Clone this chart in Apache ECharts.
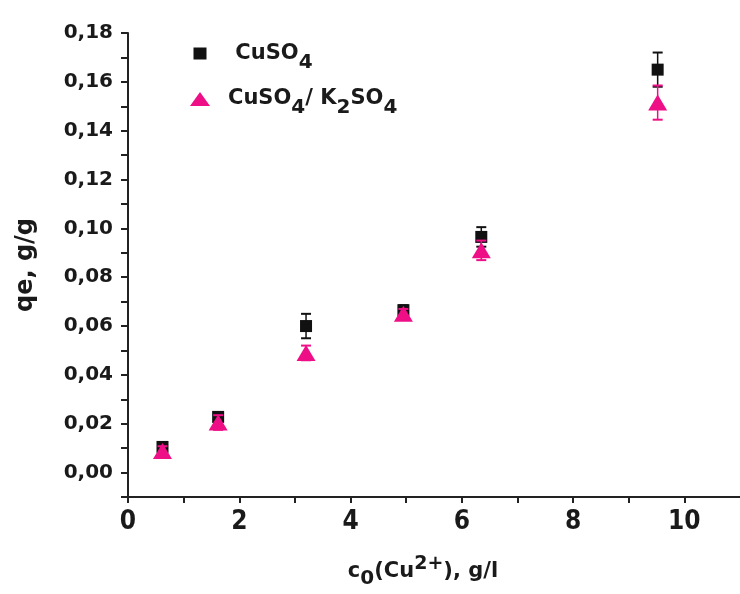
<!DOCTYPE html>
<html>
<head>
<meta charset="utf-8">
<script src="https://cdn.jsdelivr.net/npm/echarts@6/dist/echarts.min.js"></script>
<style>
html,body{margin:0;padding:0;background:#fff;}
#chart{width:740px;height:594px;}
</style>
</head>
<body>
<div id="chart"></div>
<script>
// Data
const xValues = [0.62, 1.62, 3.2, 4.95, 6.35, 9.52];
const cuso4 = [0.0105, 0.0228, 0.0600, 0.0665, 0.0965, 0.1650];
const cuso4Err = [0.002, 0.002, 0.005, 0.002, 0.004, 0.007];
const mixed = [0.0088, 0.0205, 0.0490, 0.0650, 0.0910, 0.1515];
const mixedErr = [0.002, 0.003, 0.003, 0.002, 0.004, 0.007];
const seriesNames = ['CuSO4', 'CuSO4/ K2SO4'];
const xTickLabels = [0, 2, 4, 6, 8, 10];
const yTickLabels = ['0,00','0,02','0,04','0,06','0,08','0,10','0,12','0,14','0,16','0,18'];

const BLACK = '#111111';
const PINK = '#EE0F87';
const TXT = '#1a1a1a';
const WIDE = '"DejaVu Sans", Verdana, sans-serif';
const NARROW = '"Liberation Sans Narrow", "DejaVu Sans Condensed", "Arial Narrow", sans-serif';

function errSeries(name, ys, errs, color, z) {
  return {
    name: name,
    type: 'custom',
    z: z,
    data: xValues.map((x, i) => [x, ys[i], errs[i]]),
    encode: { x: 0, y: 1 },
    renderItem: function (params, api) {
      const x = api.value(0), y = api.value(1), e = api.value(2);
      const top = api.coord([x, y + e]);
      const bot = api.coord([x, y - e]);
      const w = 5;
      return {
        type: 'group',
        children: [
          { type: 'line', shape: { x1: top[0], y1: top[1], x2: bot[0], y2: bot[1] }, style: { stroke: color, lineWidth: 1.5 } },
          { type: 'line', shape: { x1: top[0] - w, y1: top[1], x2: top[0] + w, y2: top[1] }, style: { stroke: color, lineWidth: 2 } },
          { type: 'line', shape: { x1: bot[0] - w, y1: bot[1], x2: bot[0] + w, y2: bot[1] }, style: { stroke: color, lineWidth: 2 } }
        ]
      };
    },
    silent: true
  };
}

const chart = echarts.init(document.getElementById('chart'), null, { renderer: 'canvas' });
const legendRich = {
  m: { fontFamily: WIDE, fontWeight: 'bold', fontSize: 21, color: TXT, verticalAlign: 'middle' },
  s: { fontFamily: WIDE, fontWeight: 'bold', fontSize: 20, color: TXT, verticalAlign: 'bottom', padding: [18, 0, 0, 0] }
};

chart.setOption({
  backgroundColor: '#ffffff',
  animation: false,
  grid: { left: 128, right: 0, top: 33, bottom: 95.5, containLabel: false },
  legend: {
    orient: 'vertical',
    left: 185,
    top: 38,
    itemGap: 16,
    itemWidth: 20,
    itemHeight: 14,
    selectedMode: false,
    data: [
      { name: seriesNames[0], icon: 'path://M0,0M20,14M3.5,1h13v12h-13z' },
      { name: seriesNames[1], icon: 'triangle' }
    ],
    formatter: function (name) {
      if (name === seriesNames[0]) return '{m| CuSO}{s|4}';
      return '{m|CuSO}{s|4}{m|/ K}{s|2}{m|SO}{s|4}';
    },
    textStyle: { rich: legendRich, padding: [0, 0, 0, 13] }
  },
  xAxis: {
    type: 'value',
    min: 0,
    max: 11,
    interval: 1,
    name: '{m|c}{s|0}{m|(Cu}{p|2+}{m|), g/l}',
    nameLocation: 'middle',
    nameGap: 58,
    nameTextStyle: {
      padding: [0, 22, 0, 0],
      rich: {
        m: { fontFamily: WIDE, fontWeight: 'bold', fontSize: 21, color: TXT, verticalAlign: 'middle' },
        s: { fontFamily: WIDE, fontWeight: 'bold', fontSize: 20, color: TXT, verticalAlign: 'bottom', padding: [14, 0, 0, 0] },
        p: { fontFamily: WIDE, fontWeight: 'bold', fontSize: 19, color: TXT, verticalAlign: 'top', padding: [0, 0, 14, 0] }
      }
    },
    axisLine: { onZero: false, lineStyle: { color: '#222', width: 2 } },
    axisTick: { inside: false, length: 6, lineStyle: { color: '#222', width: 2 } },
    splitLine: { show: false },
    axisLabel: {
      margin: 12,
      fontFamily: NARROW, fontWeight: 'bold', fontSize: 26, color: TXT,
      showMaxLabel: false,
      formatter: function (v) {
        const r = Math.round(v);
        return xTickLabels.indexOf(r) >= 0 && Math.abs(v - r) < 1e-6 ? String(r) : '';
      }
    }
  },
  yAxis: {
    type: 'value',
    min: -0.01,
    max: 0.18,
    interval: 0.01,
    name: 'qe, g/g',
    nameLocation: 'middle',
    nameGap: 90,
    nameTextStyle: { fontFamily: WIDE, fontWeight: 'bold', fontSize: 24, color: TXT },
    axisLine: { onZero: false, lineStyle: { color: '#222', width: 2 } },
    axisTick: { inside: false, length: 7, lineStyle: { color: '#222', width: 2 } },
    splitLine: { show: false },
    axisLabel: {
      margin: 15,
      fontFamily: WIDE, fontWeight: 'bold', fontSize: 20, color: TXT,
      formatter: function (v) {
        const k = Math.round(v * 100);
        if (k < 0 || k % 2 !== 0) return '';
        return yTickLabels[k / 2] || '';
      }
    }
  },
  series: [
    errSeries('errA', cuso4, cuso4Err, BLACK, 1),
    {
      name: seriesNames[0],
      type: 'scatter',
      z: 2,
      symbol: 'rect',
      symbolSize: 12,
      itemStyle: { color: BLACK, opacity: 1 },
      data: xValues.map((x, i) => [x, cuso4[i]])
    },
    errSeries('errB', mixed, mixedErr, PINK, 3),
    {
      name: seriesNames[1],
      type: 'scatter',
      z: 4,
      symbol: 'triangle',
      symbolSize: [19, 16],
      itemStyle: { color: PINK, opacity: 1 },
      data: xValues.map((x, i) => [x, mixed[i]])
    }
  ]
});
</script>
</body>
</html>
